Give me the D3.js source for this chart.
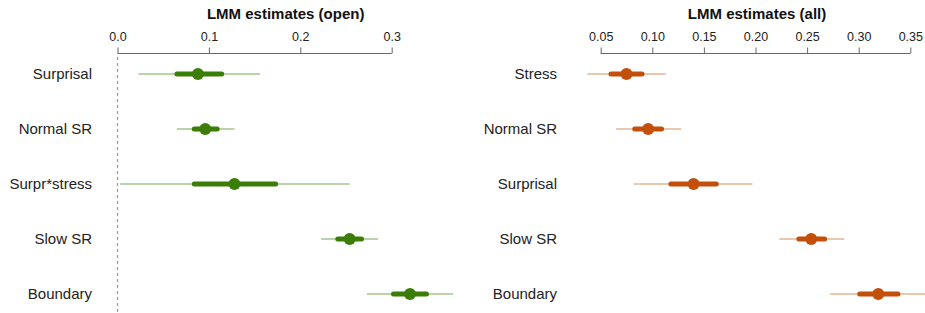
<!DOCTYPE html>
<html>
<head>
<meta charset="utf-8">
<script src="https://cdn.jsdelivr.net/npm/d3@7"></script>
<style>
  body { margin: 0; background: #fff; }
  svg { display: block; font-family: "Liberation Sans", Arial, sans-serif; }
</style>
</head>
<body>
<div id="chart"></div>
<script>
  // Left panel: open
  var openTerms = ['Surprisal', 'Normal SR', 'Surpr*stress', 'Slow SR', 'Boundary'];
  var openEst   = [0.088, 0.096, 0.128, 0.254, 0.320];
  var openLo95  = [0.023, 0.065, 0.003, 0.223, 0.273];
  var openHi95  = [0.156, 0.128, 0.254, 0.285, 0.367];
  var openLo50  = [0.065, 0.084, 0.084, 0.241, 0.302];
  var openHi50  = [0.114, 0.109, 0.173, 0.267, 0.338];
  var openTicks = [0, 0.1, 0.2, 0.3];

  // Right panel: all
  var allTerms = ['Stress', 'Normal SR', 'Surprisal', 'Slow SR', 'Boundary'];
  var allEst   = [0.075, 0.096, 0.140, 0.254, 0.319];
  var allLo95  = [0.037, 0.065, 0.082, 0.223, 0.272];
  var allHi95  = [0.113, 0.128, 0.197, 0.286, 0.368];
  var allLo50  = [0.060, 0.083, 0.118, 0.242, 0.301];
  var allHi50  = [0.090, 0.109, 0.162, 0.267, 0.338];
  var allTicks = [0.05, 0.10, 0.15, 0.20, 0.25, 0.30, 0.35];

  var W = 925, H = 313;
  var svg = d3.select('#chart').append('svg')
    .attr('width', W).attr('height', H);

  function panel(opts) {
    var x = d3.scaleLinear().domain(opts.domain).range(opts.range);
    var y = d3.scalePoint().domain(opts.terms).range([74, 294]);
    var g = svg.append('g');

    // zero reference line
    if (opts.zeroLine) {
      g.append('line')
        .attr('x1', x(0)).attr('x2', x(0))
        .attr('y1', 57).attr('y2', H)
        .attr('stroke', '#999').attr('stroke-width', 1.2)
        .attr('stroke-dasharray', '3,3');
    }

    // top axis
    var axis = d3.axisTop(x).tickValues(opts.ticks)
      .tickFormat(d3.format(opts.fmt)).tickSize(6).tickSizeOuter(0);
    var ax = g.append('g').attr('transform', 'translate(0,53.5)').call(axis);
    ax.select('.domain').attr('stroke', '#666')
      .attr('d', 'M' + x(opts.ticks[0]) + ',0H' + x(opts.ticks[opts.ticks.length - 1]));
    ax.selectAll('.tick line').attr('stroke', '#666');
    ax.selectAll('.tick text').attr('font-size', 12.5).attr('fill', '#222')
      .attr('y', -13).attr('dy', 0);

    // title sits over the full plot range, not just the ticks
    g.append('text').attr('x', x(opts.titleAt)).attr('y', 19)
      .attr('text-anchor', 'middle').attr('font-size', 15)
      .attr('font-weight', 'bold').attr('fill', '#111')
      .text(opts.title);

    // row labels
    g.selectAll('text.lab').data(opts.terms).enter().append('text')
      .attr('class', 'lab')
      .attr('x', opts.labelX).attr('y', function (d) { return y(d); })
      .attr('dy', '0.35em').attr('text-anchor', 'end')
      .attr('font-size', 15).attr('fill', '#222')
      .text(function (d) { return d; });

    var idx = d3.range(opts.terms.length);

    g.selectAll('line.ci95').data(idx).enter().append('line')
      .attr('x1', function (i) { return x(opts.lo95[i]); })
      .attr('x2', function (i) { return x(opts.hi95[i]); })
      .attr('y1', function (i) { return y(opts.terms[i]); })
      .attr('y2', function (i) { return y(opts.terms[i]); })
      .attr('stroke', opts.light).attr('stroke-width', 1.3);

    g.selectAll('line.ci50').data(idx).enter().append('line')
      .attr('x1', function (i) { return x(opts.lo50[i]); })
      .attr('x2', function (i) { return x(opts.hi50[i]); })
      .attr('y1', function (i) { return y(opts.terms[i]); })
      .attr('y2', function (i) { return y(opts.terms[i]); })
      .attr('stroke', opts.color).attr('stroke-width', 5)
      .attr('stroke-linecap', 'round');

    g.selectAll('circle.est').data(idx).enter().append('circle')
      .attr('cx', function (i) { return x(opts.est[i]); })
      .attr('cy', function (i) { return y(opts.terms[i]); })
      .attr('r', 6).attr('fill', opts.color);
  }

  panel({
    terms: openTerms, est: openEst, lo95: openLo95, hi95: openHi95,
    lo50: openLo50, hi50: openHi50, ticks: openTicks, fmt: '.1f',
    domain: [0, 0.3], range: [117.5, 391.7], zeroLine: true,
    title: 'LMM estimates (open)', titleAt: 0.184, labelX: 92,
    color: '#3b7d06', light: '#a3c48c'
  });

  panel({
    terms: allTerms, est: allEst, lo95: allLo95, hi95: allHi95,
    lo50: allLo50, hi50: allHi50, ticks: allTicks, fmt: '.2f',
    domain: [0.05, 0.35], range: [600.7, 910.3], zeroLine: false,
    title: 'LMM estimates (all)', titleAt: 0.2015, labelX: 557,
    color: '#c3500a', light: '#e3b594'
  });
</script>
</body>
</html>
